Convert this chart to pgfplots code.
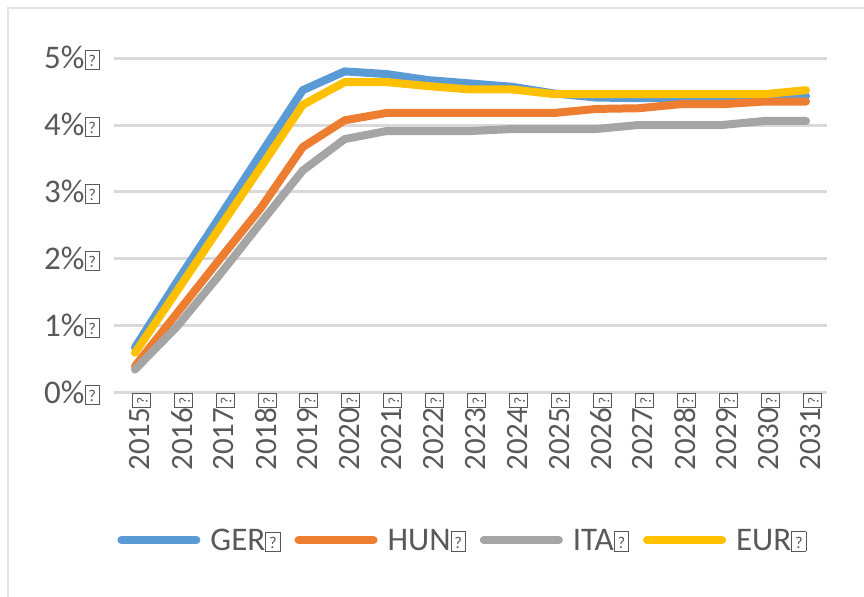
\documentclass[border=0pt]{standalone}
\usepackage{fontspec}
\setmainfont{Carlito}
\usepackage{pgfplots}
\pgfplotsset{compat=1.18}
\definecolor{cGER}{HTML}{5B9BD5}
\definecolor{cHUN}{HTML}{ED7D31}
\definecolor{cITA}{HTML}{A5A5A5}
\definecolor{cEUR}{HTML}{FFC000}
\definecolor{gridc}{HTML}{D9D9D9}
\definecolor{txt}{HTML}{595959}
\definecolor{framec}{HTML}{E3E3E3}
% missing-glyph box as in the source
\newcommand\nd{{\fboxsep=0pt\fboxrule=0.7bp\fbox{\makebox[0.42em]{\rule{0pt}{0.56em}\raisebox{0.07em}{\scalebox{0.5}{?}}}}}}
\begin{document}
\begin{tikzpicture}
\begin{axis}[
  scale only axis, width=713bp, height=335bp,
  at={(114bp,204bp)}, anchor=south west,
  xmin=-0.5, xmax=16.5, ymin=0, ymax=5,
  axis line style={draw=none},
  major tick length=0pt,
  xtick={0,...,16},
  xticklabels={2015\nd,2016\nd,2017\nd,2018\nd,2019\nd,2020\nd,2021\nd,2022\nd,2023\nd,2024\nd,2025\nd,2026\nd,2027\nd,2028\nd,2029\nd,2030\nd,2031\nd},
  xticklabel style={rotate=90, anchor=east, font=\fontsize{31bp}{31bp}\selectfont, text=txt, inner sep=0pt},
  xtick pos=bottom,
  x tick label style={yshift=-5bp},
  ytick={0,1,2,3,4,5},
  yticklabels={0\%\nd,1\%\nd,2\%\nd,3\%\nd,4\%\nd,5\%\nd},
  yticklabel style={font=\fontsize{33bp}{33bp}\selectfont, text=txt, inner sep=0pt, xshift=-14bp},
  ymajorgrids, grid style={draw=gridc, line width=3bp},
  legend columns=4,
  legend style={at={(0.488,-0.439)}, anchor=center, draw=none, fill=none,
    font=\fontsize{33bp}{33bp}\selectfont, text=txt,
    /tikz/every even column/.append style={column sep=14bp},
    nodes={inner sep=0pt, text depth=0pt}},
  legend image code/.code={\draw[#1, line cap=round] (0bp,0bp) -- (75bp,0bp);},
  every axis plot/.append style={line width=8bp, line join=round, line cap=round},
  clip=false,
]
\addplot[cGER] coordinates {(0,0.68)(1,1.66)(2,2.61)(3,3.57)(4,4.52)(5,4.80)(6,4.76)(7,4.67)(8,4.62)(9,4.57)(10,4.47)(11,4.41)(12,4.40)(13,4.40)(14,4.40)(15,4.40)(16,4.43)};
\addlegendentry{\hspace{10bp}GER\nd}
\addplot[cHUN] coordinates {(0,0.40)(1,1.19)(2,1.98)(3,2.76)(4,3.67)(5,4.07)(6,4.18)(7,4.18)(8,4.18)(9,4.18)(10,4.18)(11,4.24)(12,4.25)(13,4.31)(14,4.31)(15,4.35)(16,4.35)};
\addlegendentry{\hspace{10bp}HUN\nd}
\addplot[cITA] coordinates {(0,0.35)(1,0.99)(2,1.75)(3,2.54)(4,3.32)(5,3.79)(6,3.91)(7,3.91)(8,3.91)(9,3.94)(10,3.94)(11,3.94)(12,4.00)(13,4.00)(14,4.00)(15,4.06)(16,4.06)};
\addlegendentry{\hspace{10bp}ITA\nd}
\addplot[cEUR] coordinates {(0,0.60)(1,1.52)(2,2.45)(3,3.37)(4,4.30)(5,4.64)(6,4.64)(7,4.58)(8,4.53)(9,4.53)(10,4.46)(11,4.46)(12,4.46)(13,4.46)(14,4.46)(15,4.46)(16,4.52)};
\addlegendentry{\hspace{10bp}EUR\nd}
\end{axis}
\draw[framec, line width=1.2bp] (8bp,0bp) -- (8bp,589bp) -- (864bp,589bp);
\pgfresetboundingbox
\path[use as bounding box] (0bp,0bp) rectangle (864bp,597bp);
\end{tikzpicture}
\end{document}
